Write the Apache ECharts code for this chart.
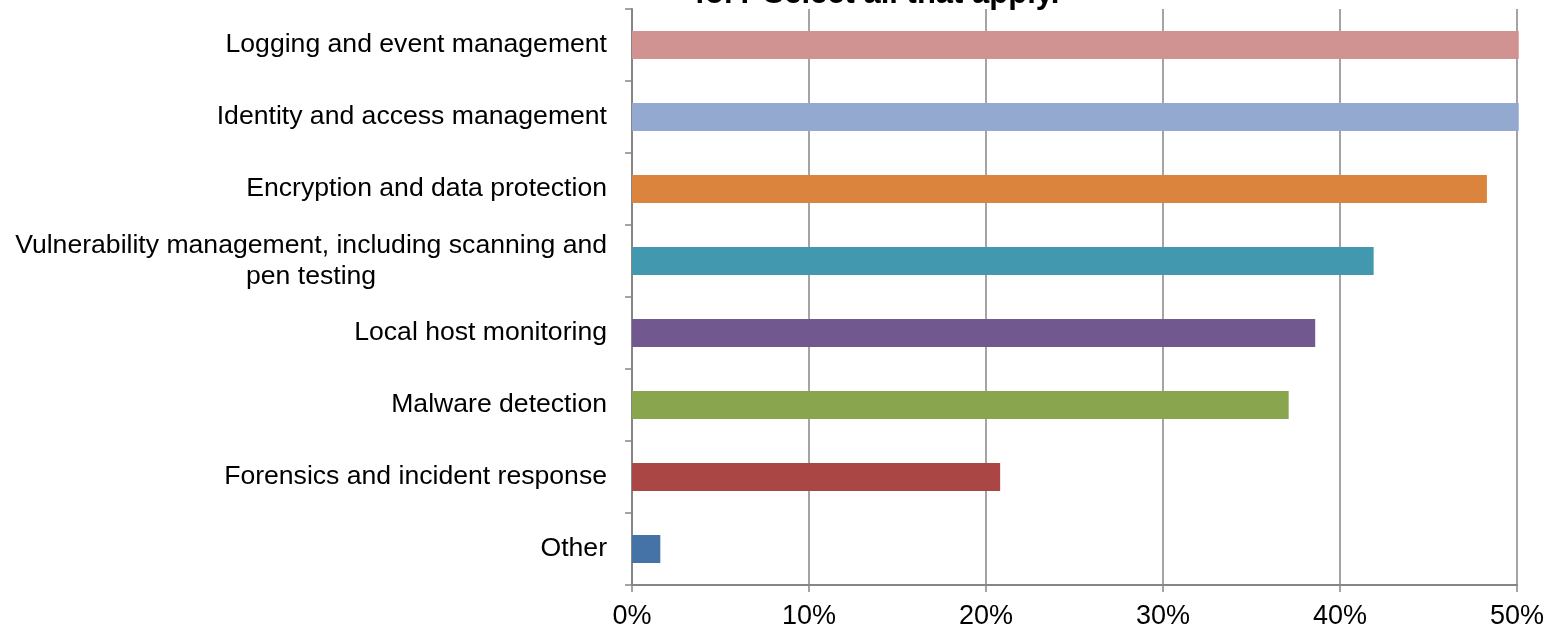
<!DOCTYPE html>
<html>
<head>
<meta charset="utf-8">
<title>Security use cases</title>
<script src="https://cdn.jsdelivr.net/npm/echarts@6/dist/echarts.min.js"></script>
<style>
  html, body { margin: 0; padding: 0; background: #fff; }
  #chart { width: 1556px; height: 630px; }
</style>
</head>
<body>
<div id="chart"></div>
<script>
// Categories listed top to bottom
const categories = [
  'Logging and event management',
  'Identity and access management',
  'Encryption and data protection',
  'Vulnerability management, including scanning and\npen testing',
  'Local host monitoring',
  'Malware detection',
  'Forensics and incident response',
  'Other'
];
// Share of respondents, percent
const values = [50.1, 50.1, 48.3, 41.9, 38.6, 37.1, 20.8, 1.6];
const barColors = ['#D19392', '#93A9CF', '#DB843D', '#4198AF', '#71588F', '#89A54E', '#AA4643', '#4572A7'];
const titleText = 'for? Select all that apply.';

const FONT = '"Liberation Sans", Arial, Helvetica, sans-serif';
const AXIS_GRAY = '#868686';

const chart = echarts.init(document.getElementById('chart'), null, { renderer: 'canvas' });

chart.setOption({
  animation: false,
  backgroundColor: '#ffffff',
  textStyle: { fontFamily: FONT },
  graphic: [{
    type: 'text',
    x: 877,
    y: 10,
    style: {
      text: titleText,
      fill: '#000',
      font: 'bold 31px ' + FONT,
      align: 'center',
      verticalAlign: 'bottom'
    }
  }],
  grid: { left: 632, right: 39, top: 9, bottom: 42, containLabel: false },
  xAxis: {
    type: 'value',
    min: 0,
    max: 50,
    interval: 10,
    axisLine: { show: true, lineStyle: { color: AXIS_GRAY, width: 2 } },
    axisTick: { show: true, length: 7, lineStyle: { color: AXIS_GRAY, width: 1.5 } },
    splitLine: { show: true, lineStyle: { color: AXIS_GRAY, width: 1.5 } },
    axisLabel: {
      formatter: '{value}%',
      color: '#000',
      fontSize: 27,
      fontFamily: FONT,
      margin: 18
    }
  },
  yAxis: {
    type: 'category',
    data: categories,
    inverse: true,
    axisLine: { show: true, lineStyle: { color: AXIS_GRAY, width: 2 } },
    axisTick: { show: true, length: 7, lineStyle: { color: AXIS_GRAY, width: 1.5 } },
    splitLine: { show: false },
    axisLabel: {
      margin: 25,
      color: '#000',
      fontSize: 26.6,
      fontFamily: FONT,
      lineHeight: 31,
      formatter: function (v) {
        return v.split('\n').map(function (line) { return '{c|' + line + '}'; }).join('\n');
      },
      rich: {
        c: { align: 'center', fontSize: 26.6, lineHeight: 31, color: '#000', fontFamily: FONT }
      }
    }
  },
  series: [{
    type: 'bar',
    barWidth: 28,
    clip: false,
    data: values.map(function (v, i) {
      return { value: v, itemStyle: { color: barColors[i] } };
    })
  }]
});
</script>
</body>
</html>
